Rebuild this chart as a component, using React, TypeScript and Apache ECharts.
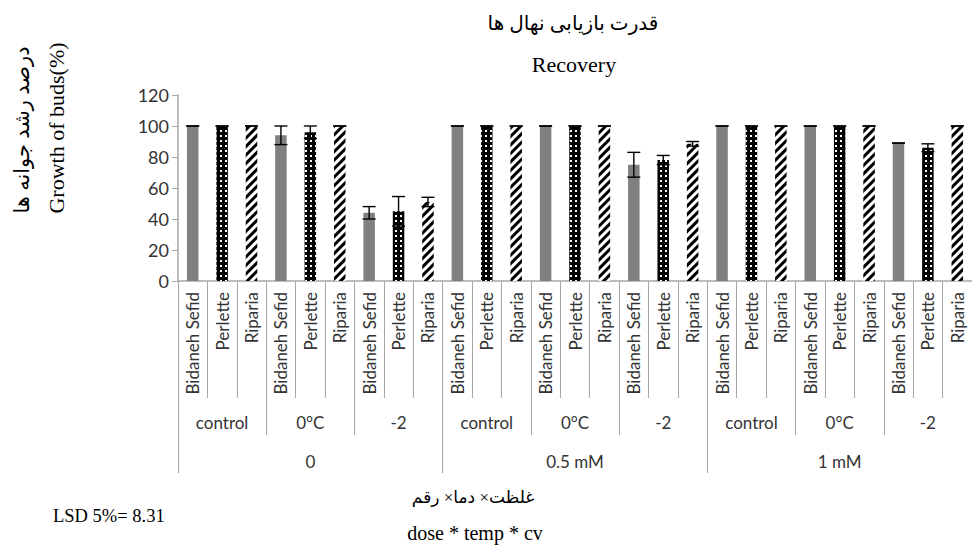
import React, { useEffect, useRef } from "react";
import * as echarts from "echarts";

// Factor levels of the three-way layout: dose > temperature > cultivar
const doses = ["0", "0.5 mM", "1 mM"];
const temps = ["control", "0°C", "-2"];
const cultivars = ["Bidaneh Sefid", "Perlette", "Riparia"];

// Bud growth (%) per dose×temperature cell, in order of doses then temps
const bidanehSefid = [100, 94, 44, 100, 100, 75, 100, 100, 89];
const bidanehSefidErr = [0, 6, 4, 0, 0, 8, 0, 0, 0];
const perlette = [100, 96, 45, 100, 100, 78, 100, 100, 86];
const perletteErr = [0, 4, 9.5, 0, 0, 3, 0, 0, 2.5];
const riparia = [100, 100, 51, 100, 100, 88.5, 100, 100, 100];
const ripariaErr = [0, 0, 3, 0, 0, 1.5, 0, 0, 0];

const yTicks = { min: 0, max: 120, interval: 20 };

const LABEL_FONT = "Lato, 'Open Sans', sans-serif";
const SERIF = "'Liberation Serif', 'DejaVu Serif', 'DejaVu Sans', serif";

export default function App() {
  const ref = useRef<HTMLDivElement>(null);

  useEffect(() => {
    if (!ref.current) return;
    const chart = echarts.init(ref.current, undefined, { renderer: "svg" });

    const values = [bidanehSefid, perlette, riparia];
    const errs = [bidanehSefidErr, perletteErr, ripariaErr];
    const nCells = doses.length * temps.length;

    const cultivarCats: string[] = [];
    const tempCats: string[] = [];
    doses.forEach(() => temps.forEach((t) => tempCats.push(t)));
    for (let g = 0; g < nCells; g++) cultivars.forEach((c) => cultivarCats.push(c));

    const seriesData = values.map((arr, ci) => {
      const d: (number | string)[] = [];
      for (let g = 0; g < nCells; g++) {
        cultivars.forEach((_, k) => d.push(k === ci ? arr[g] : "-"));
      }
      return d;
    });

    const errData: number[][] = [];
    for (let g = 0; g < nCells; g++) {
      cultivars.forEach((_, k) => {
        errData.push([g * cultivars.length + k, values[k][g], errs[k][g]]);
      });
    }

    const axisGray = "#a6a6a6";
    const labelColor = "#333333";
    const gridLeft = 178;
    const gridTop = 95;
    const gridHeight = 186;
    const gridWidth = 805;

    const barStyles = [
      { color: "#808080" },
      {
        color: "#000000",
        decal: {
          symbol: "rect",
          symbolSize: 1,
          color: "#ffffff",
          backgroundColor: "rgba(0,0,0,0)",
          dashArrayX: [1.2, 2.8],
          dashArrayY: [1.2, 2.8],
          rotation: 0,
        },
      },
      {
        color: "#ffffff",
        decal: {
          symbol: "rect",
          symbolSize: 1,
          color: "#000000",
          backgroundColor: "rgba(0,0,0,0)",
          dashArrayX: [1, 0],
          dashArrayY: [2.8, 2.4],
          rotation: -Math.PI / 4,
        },
      },
    ];

    const baseX = {
      type: "category" as const,
      position: "bottom" as const,
      boundaryGap: true,
      gridIndex: 0,
    };

    chart.setOption({
      animation: false,
      grid: { left: gridLeft, top: gridTop, width: gridWidth, height: gridHeight },
      xAxis: [
        {
          ...baseX,
          data: cultivarCats,
          axisLine: { show: true, lineStyle: { color: axisGray, width: 1.5 } },
          axisTick: { show: true, interval: 0, length: 117, lineStyle: { color: axisGray } },
          axisLabel: {
            interval: 0,
            rotate: 90,
            margin: 11,
            fontFamily: LABEL_FONT,
            fontSize: 17,
            color: labelColor,
          },
        },
        {
          ...baseX,
          data: tempCats,
          axisLine: { show: false },
          axisTick: { show: true, interval: 0, length: 154, lineStyle: { color: axisGray } },
          axisLabel: {
            interval: 0,
            margin: 133,
            fontFamily: LABEL_FONT,
            fontSize: 17,
            color: labelColor,
          },
        },
        {
          ...baseX,
          data: doses,
          axisLine: { show: false },
          axisTick: { show: true, interval: 0, length: 192, lineStyle: { color: axisGray } },
          axisLabel: {
            interval: 0,
            margin: 172,
            fontFamily: LABEL_FONT,
            fontSize: 17,
            color: labelColor,
          },
        },
      ],
      yAxis: {
        type: "value",
        min: yTicks.min,
        max: yTicks.max,
        interval: yTicks.interval,
        axisLine: { show: true, lineStyle: { color: axisGray, width: 1.5 } },
        axisTick: { show: true, length: 6, lineStyle: { color: axisGray } },
        splitLine: { show: false },
        axisLabel: {
          margin: 9,
          fontFamily: LABEL_FONT,
          fontSize: 18,
          color: labelColor,
        },
      },
      series: [
        ...cultivars.map((name, i) => ({
          name,
          type: "bar",
          xAxisIndex: 0,
          data: seriesData[i],
          barWidth: 11.5,
          barGap: "-100%",
          itemStyle: barStyles[i],
        })),
        {
          name: "error",
          type: "custom",
          xAxisIndex: 0,
          z: 10,
          data: errData,
          renderItem: (_params: any, api: any) => {
            const x = api.value(0);
            const v = api.value(1);
            const e = api.value(2);
            const top = api.coord([x, v + e]);
            const bot = api.coord([x, v - e]);
            const hw = 6.5;
            const style = { stroke: "#000000", lineWidth: 1.4 };
            return {
              type: "group",
              children: [
                { type: "line", shape: { x1: top[0], y1: top[1], x2: bot[0], y2: bot[1] }, style },
                { type: "line", shape: { x1: top[0] - hw, y1: top[1], x2: top[0] + hw, y2: top[1] }, style },
                { type: "line", shape: { x1: bot[0] - hw, y1: bot[1], x2: bot[0] + hw, y2: bot[1] }, style },
              ],
            };
          },
        },
      ],
      graphic: [
        {
          type: "text",
          x: 573,
          y: 23,
          style: { text: "قدرت بازیابی نهال ها", font: `20px ${SERIF}`, fill: "#000", align: "center", verticalAlign: "middle" },
        },
        {
          type: "text",
          x: 574,
          y: 64,
          style: { text: "Recovery", font: `22px ${SERIF}`, fill: "#000", align: "center", verticalAlign: "middle" },
        },
        {
          type: "text",
          x: 22,
          y: 130,
          rotation: Math.PI / 2,
          style: { text: "درصد رشد جوانه ها", font: `21px ${SERIF}`, fill: "#000", align: "center", verticalAlign: "middle" },
        },
        {
          type: "text",
          x: 56,
          y: 128,
          rotation: Math.PI / 2,
          style: { text: "Growth of buds(%)", font: `22px ${SERIF}`, fill: "#000", align: "center", verticalAlign: "middle" },
        },
        {
          type: "text",
          x: 53,
          y: 516,
          style: { text: "LSD 5%= 8.31", font: `18.5px ${SERIF}`, fill: "#000", align: "left", verticalAlign: "middle" },
        },
        {
          type: "text",
          x: 473,
          y: 497,
          style: { text: "غلظت× دما× رقم", font: `17px ${SERIF}`, fill: "#000", align: "center", verticalAlign: "middle" },
        },
        {
          type: "text",
          x: 475,
          y: 533,
          style: { text: "dose * temp * cv", font: `20px ${SERIF}`, fill: "#000", align: "center", verticalAlign: "middle" },
        },
      ],
    });

    return () => chart.dispose();
  }, []);

  return (
    <div
      ref={ref}
      style={{ position: "absolute", left: 0, top: 0, width: 972, height: 560, background: "#ffffff" }}
    />
  );
}
